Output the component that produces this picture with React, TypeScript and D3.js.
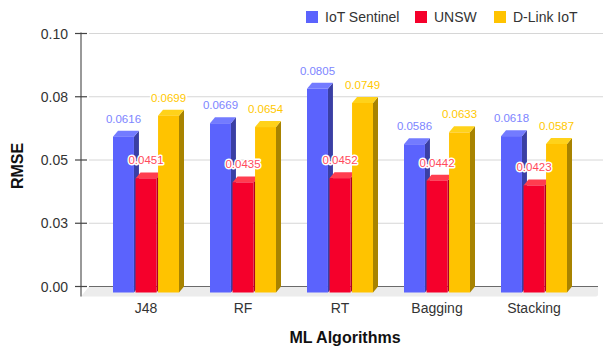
import React from "react";
import * as d3 from "d3";

const categories = ["J48", "RF", "RT", "Bagging", "Stacking"];
const seriesNames = ["IoT Sentinel", "UNSW", "D-Link IoT"];
const iotSentinel = [0.0616, 0.0669, 0.0805, 0.0586, 0.0618];
const unsw = [0.0451, 0.0435, 0.0452, 0.0442, 0.0423];
const dlinkIot = [0.0699, 0.0654, 0.0749, 0.0633, 0.0587];
const tickValues = [0, 0.025, 0.05, 0.075, 0.1];
const tickLabels = ["0.00", "0.03", "0.05", "0.08", "0.10"];

const W = 603;
const H = 348;
const FONT = "Arial, 'Liberation Sans', sans-serif";

// face colours per series: front, side, top, label
const palette = [
  { front: "#5b63fd", side: "#3a3fa4", top: "#737bff", label: "#7d85ff" },
  { front: "#f5002b", side: "#b0001f", top: "#ff3d4f", label: "#ff4a5c" },
  { front: "#ffc300", side: "#a88300", top: "#ffd21a", label: "#ffc800" },
];

const DX = 5; // depth offset (right)
const DY = 6; // depth offset (up)

export default function App() {
  const series = [iotSentinel, unsw, dlinkIot];

  // back wall (gridlines) scale
  const yBack = d3.scaleLinear().domain([0, 0.1]).range([286.5, 33.5]);
  // bars sit slightly in front of the wall
  const yFront = (v: number) => yBack(v) + DY;

  const x = d3.scaleBand<string>().domain(categories).range([96.5, 581.5]);
  const inner = d3
    .scaleBand<number>()
    .domain([0, 1, 2])
    .range([-32, 34])
    .paddingInner(0.07);

  const plotLeft = 81;
  const plotRight = 603;
  const floorTop = yBack(0);
  const floorBottom = floorTop + 10;

  return (
    <svg width={W} height={H} style={{ position: "absolute", left: 0, top: 0 }} fontFamily={FONT}>
      <rect width={W} height={H} fill="#fff" />

      {/* gridlines on the back wall */}
      {tickValues.slice(1).map((t, i) => (
        <line key={i} x1={89} x2={plotRight} y1={yBack(t)} y2={yBack(t)} stroke="#d6d6d6" strokeWidth={1} />
      ))}

      {/* floor */}
      <path
        d={`M${89},${floorTop} L${598},${floorTop} L${598},${floorBottom - 2} Q${598},${floorBottom} ${596},${floorBottom} L${plotLeft},${floorBottom} Z`}
        fill="#ececec"
      />
      <line x1={89} x2={598} y1={floorTop} y2={floorTop} stroke="#6a6a6a" strokeWidth={1} />

      {/* y axis */}
      <line x1={plotLeft} x2={plotLeft} y1={yBack(0.1) - 1} y2={floorBottom} stroke="#777" strokeWidth={1.5} />
      {tickValues.map((t, i) => (
        <g key={i}>
          <line x1={75} x2={87} y1={yBack(t)} y2={yBack(t)} stroke="#444" strokeWidth={1.2} />
          <text x={68} y={yBack(t) + 5} textAnchor="end" fontSize={14} fill="#333">
            {tickLabels[i]}
          </text>
        </g>
      ))}

      {/* bars */}
      {categories.map((c, ci) => (
        <g key={c}>
          {series.map((vals, si) => {
            const v = vals[ci];
            const bw = inner.bandwidth();
            const x0 = (x(c) as number) + x.bandwidth() / 2 + (inner(si) as number);
            const x1 = x0 + bw;
            const yt = yFront(v);
            const yb = yFront(0);
            const p = palette[si];
            return (
              <g key={si}>
                <path d={`M${x1},${yt} L${x1 + DX},${yt - DY} L${x1 + DX},${yb - DY} L${x1},${yb} Z`} fill={p.side} />
                <path d={`M${x0},${yt} L${x0 + DX},${yt - DY} L${x1 + DX},${yt - DY} L${x1},${yt} Z`} fill={p.top} />
                <rect x={x0} y={yt} width={bw} height={yb - yt} fill={p.front} />
              </g>
            );
          })}
        </g>
      ))}

      {/* value labels */}
      {categories.map((c, ci) => (
        <g key={c}>
          {series.map((vals, si) => {
            const v = vals[ci];
            const cx = (x(c) as number) + x.bandwidth() / 2 + (inner(si) as number) + inner.bandwidth() / 2;
            return (
              <text
                key={si}
                x={cx}
                y={yFront(v) - 14}
                textAnchor="middle"
                fontSize={11.5}
                fill={palette[si].label}
                stroke="#fff"
                strokeWidth={3}
                strokeLinejoin="round"
                paintOrder="stroke"
              >
                {v.toFixed(4)}
              </text>
            );
          })}
        </g>
      ))}

      {/* category labels */}
      {categories.map((c) => (
        <text key={c} x={(x(c) as number) + x.bandwidth() / 2 + 1} y={313} textAnchor="middle" fontSize={14} fill="#333">
          {c}
        </text>
      ))}

      {/* axis titles */}
      <text x={345} y={343} textAnchor="middle" fontSize={16} fontWeight="bold" fill="#111">
        ML Algorithms
      </text>
      <text transform={`translate(23,166) rotate(-90)`} textAnchor="middle" fontSize={16} fontWeight="bold" fill="#111">
        RMSE
      </text>

      {/* legend */}
      {[306, 415, 494].map((lx, i) => (
        <g key={i}>
          <rect x={lx} y={11} width={12} height={12} fill={palette[i].front} />
          <text x={lx + 19} y={21.5} fontSize={14} fill="#333">
            {seriesNames[i]}
          </text>
        </g>
      ))}
    </svg>
  );
}
